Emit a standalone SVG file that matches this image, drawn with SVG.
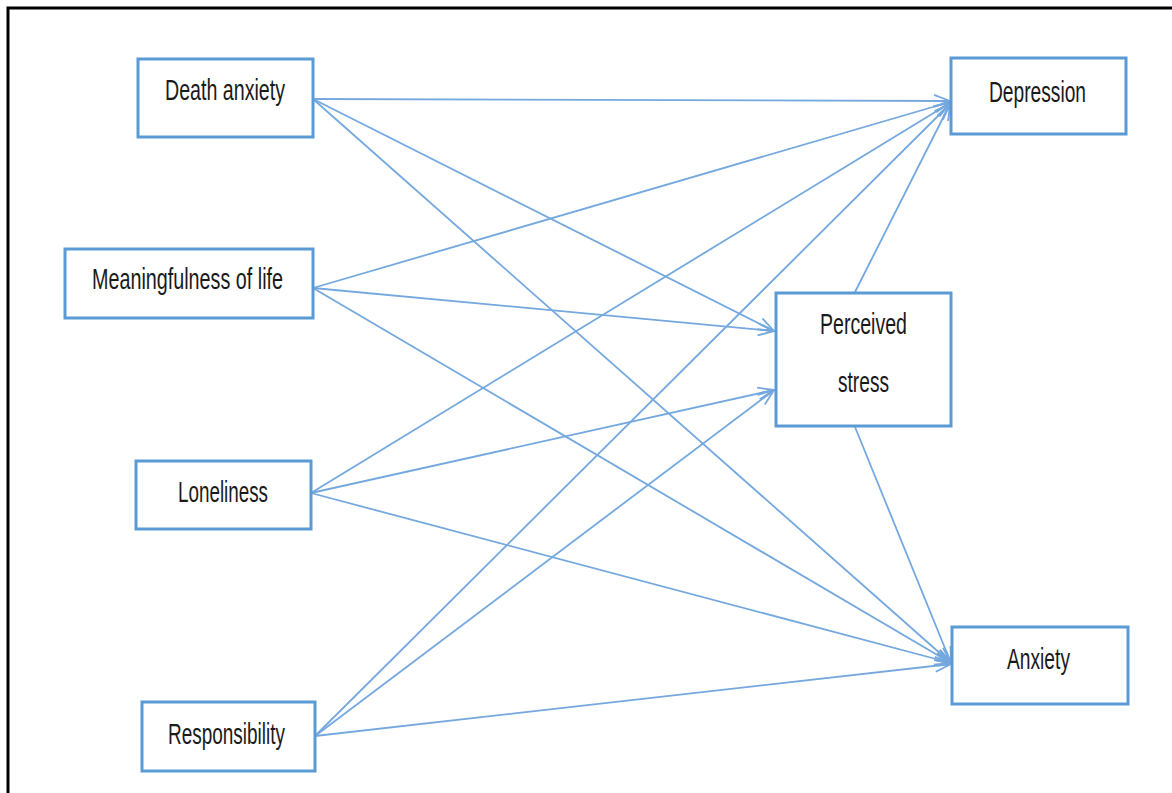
<svg xmlns="http://www.w3.org/2000/svg" width="1172" height="793" viewBox="0 0 1172 793">
<defs>
<style>
.box{fill:#fff;stroke:#5B9BD5;stroke-width:3}
.lbl{font-family:"Liberation Sans",Arial,sans-serif;font-size:29px;fill:#1a1a1a}
.edge{stroke:#74A8DF;stroke-width:1.8;fill:none}
</style>
<marker id="ah" viewBox="0 0 18 14" refX="17" refY="7" markerWidth="18" markerHeight="14" markerUnits="userSpaceOnUse" orient="auto">
<path d="M1,1 L17,7 L1,13 M3,7 L17,7" fill="none" stroke="#74A8DF" stroke-width="1.8"/>
</marker>
</defs>
<rect width="1172" height="793" fill="#fff"/>
<path d="M8,793 V8 H1172" fill="none" stroke="#000" stroke-width="3"/>
<g id="connectors">
<line class="edge" marker-end="url(#ah)" x1="313" y1="99" x2="950" y2="101"/>
<line class="edge" marker-end="url(#ah)" x1="313" y1="99" x2="774" y2="331"/>
<line class="edge" marker-end="url(#ah)" x1="313" y1="99" x2="951" y2="663"/>
<line class="edge" marker-end="url(#ah)" x1="313" y1="288" x2="950" y2="102"/>
<line class="edge" marker-end="url(#ah)" x1="313" y1="288" x2="774" y2="331"/>
<line class="edge" marker-end="url(#ah)" x1="313" y1="288" x2="951" y2="663"/>
<line class="edge" marker-end="url(#ah)" x1="311" y1="493" x2="950" y2="103"/>
<line class="edge" marker-end="url(#ah)" x1="311" y1="493" x2="774" y2="390"/>
<line class="edge" marker-end="url(#ah)" x1="311" y1="493" x2="951" y2="663"/>
<line class="edge" marker-end="url(#ah)" x1="315" y1="736" x2="950" y2="104"/>
<line class="edge" marker-end="url(#ah)" x1="315" y1="736" x2="774" y2="390"/>
<line class="edge" marker-end="url(#ah)" x1="315" y1="736" x2="951" y2="664"/>
<line class="edge" marker-end="url(#ah)" x1="855" y1="292" x2="950" y2="104"/>
<line class="edge" marker-end="url(#ah)" x1="855" y1="427" x2="951" y2="663"/>
</g>
<g id="death-anxiety">
<rect class="box" x="138" y="59" width="175" height="78"/>
<text class="lbl" x="165" y="100" textLength="120" lengthAdjust="spacingAndGlyphs">Death anxiety</text>
</g>
<g id="meaningfulness">
<rect class="box" x="65" y="249" width="248" height="69"/>
<text class="lbl" x="92" y="289" textLength="191" lengthAdjust="spacingAndGlyphs">Meaningfulness of life</text>
</g>
<g id="loneliness">
<rect class="box" x="136" y="461" width="175" height="68"/>
<text class="lbl" x="178" y="502" textLength="90" lengthAdjust="spacingAndGlyphs">Loneliness</text>
</g>
<g id="responsibility">
<rect class="box" x="142" y="702" width="173" height="69"/>
<text class="lbl" x="168" y="744" textLength="117" lengthAdjust="spacingAndGlyphs">Responsibility</text>
</g>
<g id="perceived-stress">
<rect class="box" x="776" y="293" width="175" height="133"/>
<text class="lbl" x="820" y="334" textLength="87" lengthAdjust="spacingAndGlyphs">Perceived</text>
<text class="lbl" x="838" y="392" textLength="51" lengthAdjust="spacingAndGlyphs">stress</text>
</g>
<g id="depression">
<rect class="box" x="951" y="58" width="175" height="76"/>
<text class="lbl" x="989" y="102" textLength="97" lengthAdjust="spacingAndGlyphs">Depression</text>
</g>
<g id="anxiety">
<rect class="box" x="952" y="627" width="176" height="77"/>
<text class="lbl" x="1007" y="669" textLength="63" lengthAdjust="spacingAndGlyphs">Anxiety</text>
</g>
</svg>
